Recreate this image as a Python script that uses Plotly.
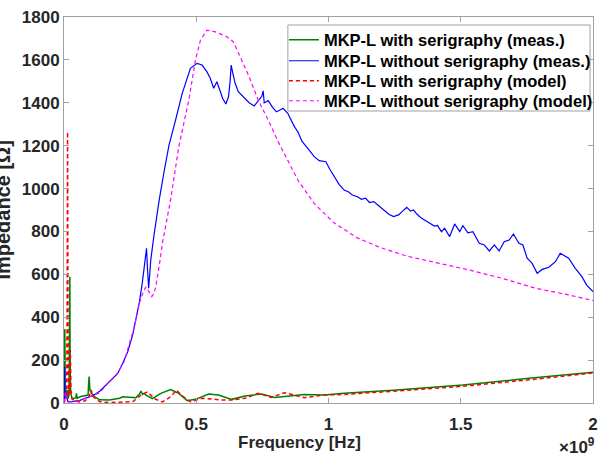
import numpy as np
import plotly.graph_objects as go

# ---------------- data (frequency in GHz, impedance in Ohm) ----------------
f_with_meas = [0, 0.001, 0.003, 0.005, 0.008, 0.012, 0.016, 0.019, 0.021, 0.022, 0.023, 0.025,
               0.03, 0.04, 0.045, 0.047, 0.05, 0.06, 0.08, 0.091, 0.093, 0.095, 0.098, 0.104,
               0.115, 0.135, 0.172, 0.21, 0.222, 0.272, 0.285, 0.291, 0.297, 0.303, 0.31, 0.334,
               0.366, 0.403, 0.434, 0.466, 0.497, 0.547, 0.584, 0.634, 0.684, 0.747, 0.797,
               0.846, 0.909, 0.984, 1.059, 1.258, 1.508, 1.758, 2.0]
z_with_meas = [0, 345, 345, 60, 30, 60, 20, 40, 400, 589, 250, 50,
               20, 22, 25, 45, 22, 29, 33, 37, 90, 123, 60, 45,
               30, 15, 14, 22, 29, 25, 40, 56, 40, 45, 37, 20,
               45, 63, 45, 11, 17, 42, 37, 17, 33, 42, 26,
               33, 40, 37, 45, 61, 84, 115, 143]

f_without_meas = [0, 0.002, 0.004, 0.008, 0.015, 0.03, 0.06, 0.09, 0.11, 0.135, 0.16, 0.18, 0.203,
                  0.222, 0.241, 0.26, 0.272, 0.285, 0.296, 0.303, 0.309, 0.312, 0.316, 0.320, 0.324,
                  0.328, 0.34, 0.36, 0.38, 0.397, 0.422, 0.447, 0.478, 0.503, 0.522, 0.540, 0.553,
                  0.566, 0.578, 0.590, 0.600, 0.612, 0.622, 0.628, 0.632, 0.638, 0.647, 0.659,
                  0.684, 0.70, 0.719, 0.740, 0.748, 0.753, 0.757, 0.765, 0.772, 0.788, 0.803,
                  0.815, 0.828, 0.846, 0.871, 0.884, 0.900, 0.921, 0.946, 0.965, 0.990, 1.005,
                  1.021, 1.04, 1.059, 1.075, 1.090, 1.109, 1.125, 1.140, 1.155, 1.171, 1.19, 1.209,
                  1.228, 1.246, 1.265, 1.28, 1.296, 1.31, 1.321, 1.335, 1.352, 1.368, 1.383, 1.400,
                  1.412, 1.427, 1.439, 1.458, 1.477, 1.496, 1.508, 1.527, 1.546, 1.570, 1.589,
                  1.608, 1.627, 1.645, 1.664, 1.683, 1.699, 1.720, 1.735, 1.751, 1.770, 1.789,
                  1.808, 1.833, 1.858, 1.876, 1.908, 1.933, 1.958, 1.976, 2.0]
z_without_meas = [0, 169, 20, 40, 5, 6, 12, 25, 35, 55, 85, 110, 138,
                  185, 239, 320, 387, 470, 560, 636, 700, 721, 620, 535, 600,
                  667, 780, 947, 1090, 1203, 1320, 1444, 1561, 1584, 1576, 1545, 1514,
                  1468, 1498, 1452, 1420, 1394, 1428, 1500, 1576, 1540, 1491, 1452,
                  1421, 1400, 1385, 1421, 1430, 1456, 1400, 1405, 1410, 1380, 1358,
                  1365, 1374, 1351, 1289, 1265, 1220, 1188, 1149, 1130, 1125, 1090,
                  1055, 1020, 993, 985, 970, 962, 950, 955, 935, 939, 920, 900,
                  880, 869, 877, 895, 912, 895, 900, 880, 861, 850, 838, 825,
                  828, 799, 815, 776, 835, 799, 827, 794, 799, 745, 737,
                  709, 737, 709, 752, 760, 788, 745, 737, 675, 651, 605,
                  623, 633, 659, 698, 675, 628, 589, 550, 519]

f_with_model = [0, 0.006, 0.01, 0.012, 0.0135, 0.015, 0.017, 0.02, 0.022, 0.024, 0.026, 0.03,
                0.04, 0.06, 0.08, 0.095, 0.102, 0.11, 0.135, 0.172, 0.26, 0.291, 0.316, 0.341,
                0.372, 0.403, 0.425, 0.447, 0.478, 0.522, 0.597, 0.634, 0.684, 0.734, 0.784,
                0.834, 0.871, 0.909, 0.984, 1.059, 1.258, 1.508, 1.758, 2.0]
z_with_model = [0, 20, 40, 500, 1265, 400, 30, 60, 150, 247, 60, 20,
                10, 5, 10, 30, 61, 30, 6, 2, 6, 37, 52, 20,
                5, 29, 60, 33, 6, 22, 14, 14, 22, 45, 26,
                48, 37, 25, 37, 40, 56, 78, 108, 140]

f_without_model = [0, 0.005, 0.01, 0.02, 0.05, 0.1, 0.135, 0.166, 0.197, 0.228, 0.266, 0.285,
                   0.300, 0.310, 0.320, 0.332, 0.340, 0.347, 0.36, 0.372, 0.403, 0.434, 0.472,
                   0.497, 0.516, 0.541, 0.572, 0.616, 0.640, 0.666, 0.697, 0.734, 0.772, 0.809,
                   0.834, 0.884, 0.946, 1.021, 1.109, 1.196, 1.296, 1.408, 1.533, 1.658, 1.783,
                   1.908, 2.0]
z_without_model = [0, 50, 20, 5, 8, 30, 48, 92, 128, 195, 356, 465,
                   520, 542, 520, 496, 510, 542, 640, 745, 947, 1195, 1413,
                   1599, 1693, 1739, 1731, 1708, 1685, 1615, 1530, 1413, 1320, 1220,
                   1160, 1040, 930, 840, 770, 725, 685, 655, 620, 581, 535,
                   504, 478]

x_tick_vals = [0, 0.5, 1, 1.5, 2]
x_tick_text = ["0", "0.5", "1", "1.5", "2"]
y_tick_vals = [0, 200, 400, 600, 800, 1000, 1200, 1400, 1600, 1800]

names = ["MKP-L with serigraphy (meas.)", "MKP-L without serigraphy (meas.)",
         "MKP-L with serigraphy (model)", "MKP-L without serigraphy (model)"]

# ---------------- figure ----------------
FONT = "Liberation Sans, Arial, sans-serif"
GHZ = 1e9
W, H = 603, 457
ML, MR, MT, MB = 64, 5, 17, 54
PW, PH = W - ML - MR, H - MT - MB


def px_x(px):
    return (px - ML) / PW


def px_y(py):
    return (H - MB - py) / PH


legend_ids = ["legend", "legend2", "legend3", "legend4"]
fig = go.Figure()
fig.add_trace(go.Scatter(x=np.array(f_with_meas) * GHZ, y=z_with_meas, mode="lines",
                         name=names[0], legend=legend_ids[0],
                         line=dict(color="#008000", width=1.5)))
fig.add_trace(go.Scatter(x=np.array(f_without_meas) * GHZ, y=z_without_meas, mode="lines",
                         name=names[1], legend=legend_ids[1],
                         line=dict(color="#0000ff", width=1.2)))
fig.add_trace(go.Scatter(x=np.array(f_with_model) * GHZ, y=z_with_model, mode="lines",
                         name=names[2], legend=legend_ids[2],
                         line=dict(color="#ff0000", width=1.5, dash="4px,3px")))
fig.add_trace(go.Scatter(x=np.array(f_without_model) * GHZ, y=z_without_model, mode="lines",
                         name=names[3], legend=legend_ids[3],
                         line=dict(color="#ff00ff", width=1.2, dash="4px,3px")))

axis_common = dict(showline=True, linecolor="#a0a0a0", linewidth=1, mirror="ticks",
                   ticks="inside", ticklen=5, tickcolor="#a0a0a0", showgrid=False,
                   zeroline=False,
                   tickfont=dict(family=FONT, size=17, color="#262626", weight="bold"))

legend_rows_px = [40, 61, 81, 101]
legend_common = dict(xanchor="left", yanchor="middle", bgcolor="rgba(0,0,0,0)",
                     borderwidth=0, itemwidth=30,
                     font=dict(family=FONT, size=16.5, color="black", weight="bold"))
legend_layout = {lid: dict(x=px_x(286), y=px_y(py), **legend_common)
                 for lid, py in zip(legend_ids, legend_rows_px)}

fig.update_layout(
    width=W, height=H,
    margin=dict(l=ML, r=MR, t=MT, b=MB),
    paper_bgcolor="white", plot_bgcolor="white",
    font=dict(family=FONT, color="#262626"),
    xaxis=dict(range=[0, 2 * GHZ], tickvals=[v * GHZ for v in x_tick_vals],
               ticktext=x_tick_text, ticklabelstandoff=6, **axis_common),
    yaxis=dict(range=[0, 1800], tickvals=y_tick_vals, **axis_common),
    showlegend=True,
    **legend_layout,
)

# legend box (drawn above the traces, below the legend texts)
fig.add_shape(type="rect", xref="paper", yref="paper",
              x0=px_x(290), x1=px_x(595), y0=px_y(111), y1=px_y(25),
              line=dict(color="#a0a0a0", width=1), fillcolor="white", layer="above")

fig.add_annotation(text="<b>Frequency [Hz]</b>", xref="paper", yref="paper",
                   x=px_x(302), y=px_y(443), xanchor="center", yanchor="middle",
                   showarrow=False, font=dict(family=FONT, size=17, color="#262626"))
fig.add_annotation(text="<b>×10<sup>9</sup></b>", xref="paper", yref="paper",
                   x=px_x(602), y=px_y(446), xanchor="right", yanchor="middle",
                   showarrow=False, font=dict(family=FONT, size=17, color="#262626"))
fig.add_annotation(text="<b>Impedance [Ω]</b>", xref="paper", yref="paper",
                   x=px_x(2), y=px_y(210), xanchor="center", yanchor="middle",
                   textangle=-90, showarrow=False,
                   font=dict(family=FONT, size=20, color="#262626"))

fig.write_html("out.html", config={"displayModeBar": False},
               post_script="document.body.style.margin='0px';")
